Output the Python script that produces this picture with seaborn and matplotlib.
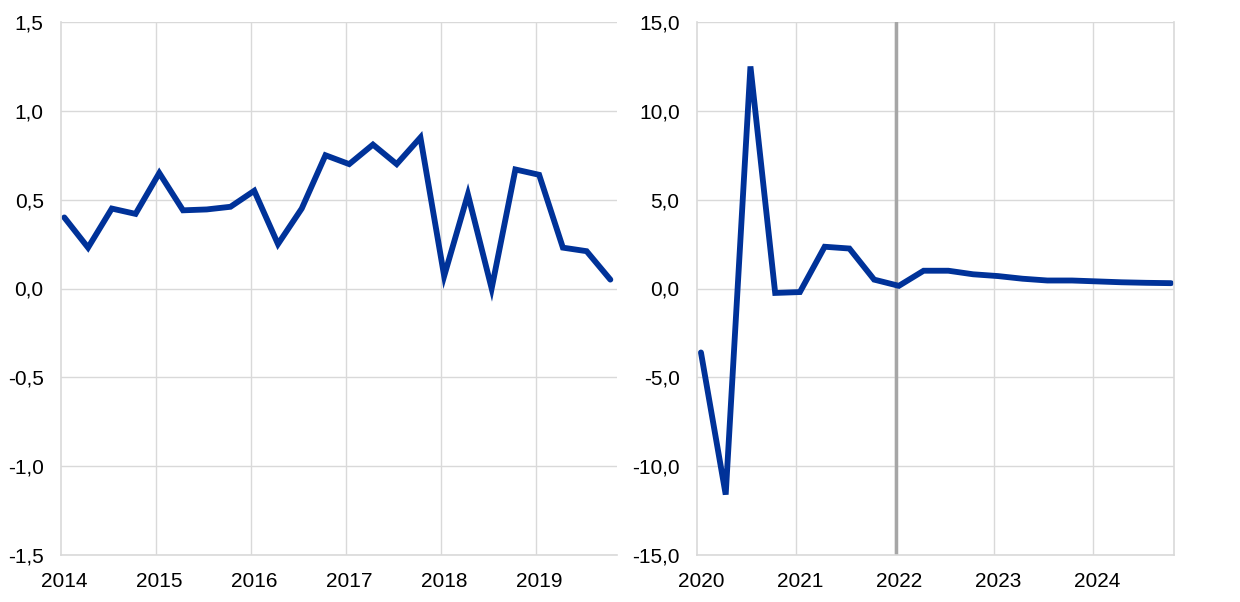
import numpy as np
import pandas as pd
import matplotlib
matplotlib.use("Agg")
import matplotlib.pyplot as plt
from matplotlib.ticker import FuncFormatter, MultipleLocator, FixedLocator
import seaborn as sns

# quarterly data, left panel 2014Q1-2019Q4, right panel 2020Q1-2024Q4
left_years = list(range(2014, 2020))
left_values = [0.40, 0.23, 0.45, 0.42,
               0.65, 0.44, 0.445, 0.46,
               0.55, 0.25, 0.45, 0.75,
               0.70, 0.81, 0.70, 0.85,
               0.07, 0.53, 0.00, 0.67,
               0.64, 0.23, 0.21, 0.05]

right_years = list(range(2020, 2025))
right_values = [-3.6, -11.6, 12.5, -0.25,
                -0.2, 2.35, 2.25, 0.5,
                0.15, 1.0, 1.0, 0.8,
                0.7, 0.55, 0.45, 0.45,
                0.4, 0.35, 0.32, 0.3]
cutoff = 2021.97  # start of projection marker

sns.set_style("whitegrid")
plt.rcParams['font.family'] = ['Liberation Sans', 'DejaVu Sans']
plt.rcParams['font.size'] = 15

BLUE = "#003299"
GRID = "#d9d9d9"
OFFSET = 0.035  # year gridlines sit just before the Q1 point


def quarter_positions(years):
    return [y + q / 4 for y in years for q in range(4)]


def comma_fmt(v, pos):
    return f"{v:.1f}".replace(".", ",")


def style_axis(ax, ylim, step, xlim, years):
    ax.set_ylim(*ylim)
    ax.set_xlim(*xlim)
    ax.yaxis.set_major_locator(MultipleLocator(step))
    ax.yaxis.set_major_formatter(FuncFormatter(comma_fmt))
    ax.set_xticks(years)
    ax.set_xticklabels([str(y) for y in years])
    ax.xaxis.set_minor_locator(FixedLocator([y - OFFSET for y in years[1:]]))
    ax.grid(False, axis="x", which="major")
    ax.grid(True, axis="x", which="minor", color=GRID, linewidth=1.0)
    ax.grid(True, axis="y", which="major", color=GRID, linewidth=1.0)
    for side in ["top", "right"]:
        ax.spines[side].set_visible(False)
    for side in ["left", "bottom"]:
        ax.spines[side].set_color(GRID)
        ax.spines[side].set_linewidth(1.2)
    ax.tick_params(axis="both", which="both", length=0, colors="black", labelsize=15)
    ax.tick_params(axis="y", pad=12.5)
    ax.tick_params(axis="x", pad=12)
    ax.set_xlabel("")
    ax.set_ylabel("")


fig = plt.figure(figsize=(12.4, 6.02), dpi=100)
ax1 = fig.add_axes([61 / 1240, 47 / 602, 556 / 1240, 533 / 602])
ax2 = fig.add_axes([697 / 1240, 47 / 602, 477 / 1240, 533 / 602])

df_left = pd.DataFrame({"x": quarter_positions(left_years), "value": left_values})
df_right = pd.DataFrame({"x": quarter_positions(right_years), "value": right_values})

sns.lineplot(data=df_left, x="x", y="value", ax=ax1, color=BLUE, linewidth=4.2,
             solid_joinstyle="miter", solid_capstyle="round")
style_axis(ax1, (-1.5, 1.5), 0.5, (2014 - OFFSET, 2019.82), left_years)

sns.lineplot(data=df_right, x="x", y="value", ax=ax2, color=BLUE, linewidth=4.2,
             solid_joinstyle="miter", solid_capstyle="round")
style_axis(ax2, (-15, 15), 5, (2020 - 0.04, 2024.78), right_years)
ax2.spines["right"].set_visible(True)
ax2.spines["right"].set_color(GRID)
ax2.spines["right"].set_linewidth(1.2)
ax2.axvline(cutoff, color="#a6a6a6", linewidth=2.5, zorder=1)

fig.savefig("out.png", dpi=100)
